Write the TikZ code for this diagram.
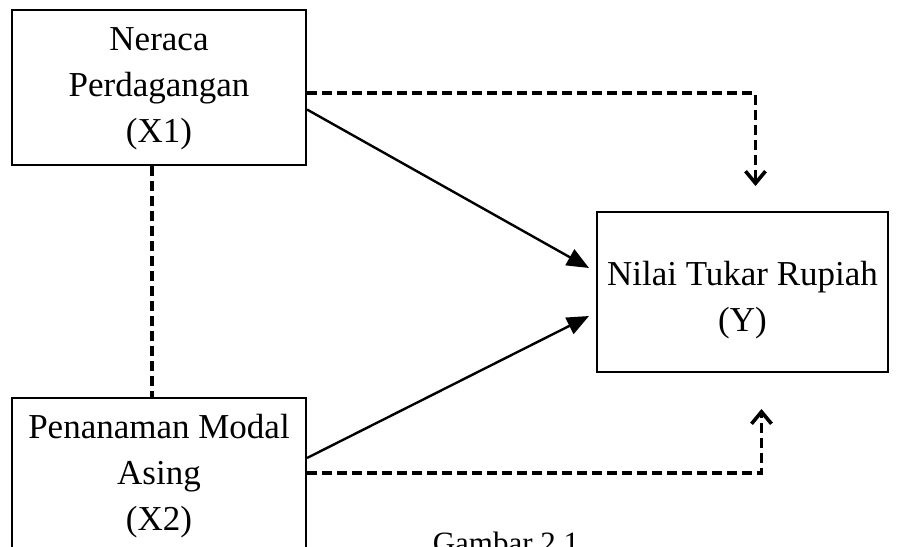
\documentclass[tikz,border=0pt]{standalone}
\usepackage{fontspec}
\setmainfont{Liberation Serif}
\usetikzlibrary{arrows.meta,calc}
\begin{document}
\begin{tikzpicture}[x=1pt,y=-1pt,
  box/.style={draw,line width=2pt,rectangle,inner sep=0pt,align=center,
    font=\fontsize{35}{46}\selectfont},
  lbl/.style={inner sep=0pt,align=center,font=\fontsize{35}{46}\selectfont},
  solidarrow/.style={line width=2.4pt,-{Triangle[length=22pt,width=18pt]}},
  dasharrow/.style={line width=3.6pt,dash pattern=on 10pt off 5pt,-{Straight Barb[length=12pt,width=20pt,line width=3.6pt]}},
  dashline/.style={line width=3.6pt,dash pattern=on 10pt off 5pt}]
\useasboundingbox (0,0) rectangle (909,546);
\clip (0,0) rectangle (909,546);
\fill[white] (0,0) rectangle (909,546);
\node[box,minimum width=294pt,minimum height=155pt] (X1) at (159,87.5) {};
\node[box,minimum width=294pt,minimum height=158pt] (X2) at (159,477) {};
\node[box,minimum width=291pt,minimum height=160pt] (Y) at (742.5,292) {};
\node[lbl] (t1) at (159,89) {Neraca\\Perdagangan\\(X1)};
\node[lbl] (t2) at (159,476) {Penanaman Modal\\Asing\\(X2)};
\node[lbl] (t3) at (742.5,300) {Nilai Tukar Rupiah\\(Y)};
\node[inner sep=0pt,font=\fontsize{31}{38}\selectfont,anchor=base] (cap) at (506,553) {Gambar 2.1};
\draw[dashline] ($(X1.south)+(-7,0)$) -- ($(X2.north)+(-7,0)$);
\draw[dasharrow] ($(X1.east)+(0,5.5)$) -| ($(Y.north)+(13,-25)$);
\draw[dasharrow] ($(X2.east)+(0,-4)$) -| ($(Y.south)+(19,36)$);
\draw[solidarrow] ($(X1.east)+(0,22)$) -- ($(Y.west)+(-7,-24)$);
\draw[solidarrow] ($(X2.east)+(0,-19)$) -- ($(Y.west)+(-7,24)$);
\end{tikzpicture}
\end{document}
